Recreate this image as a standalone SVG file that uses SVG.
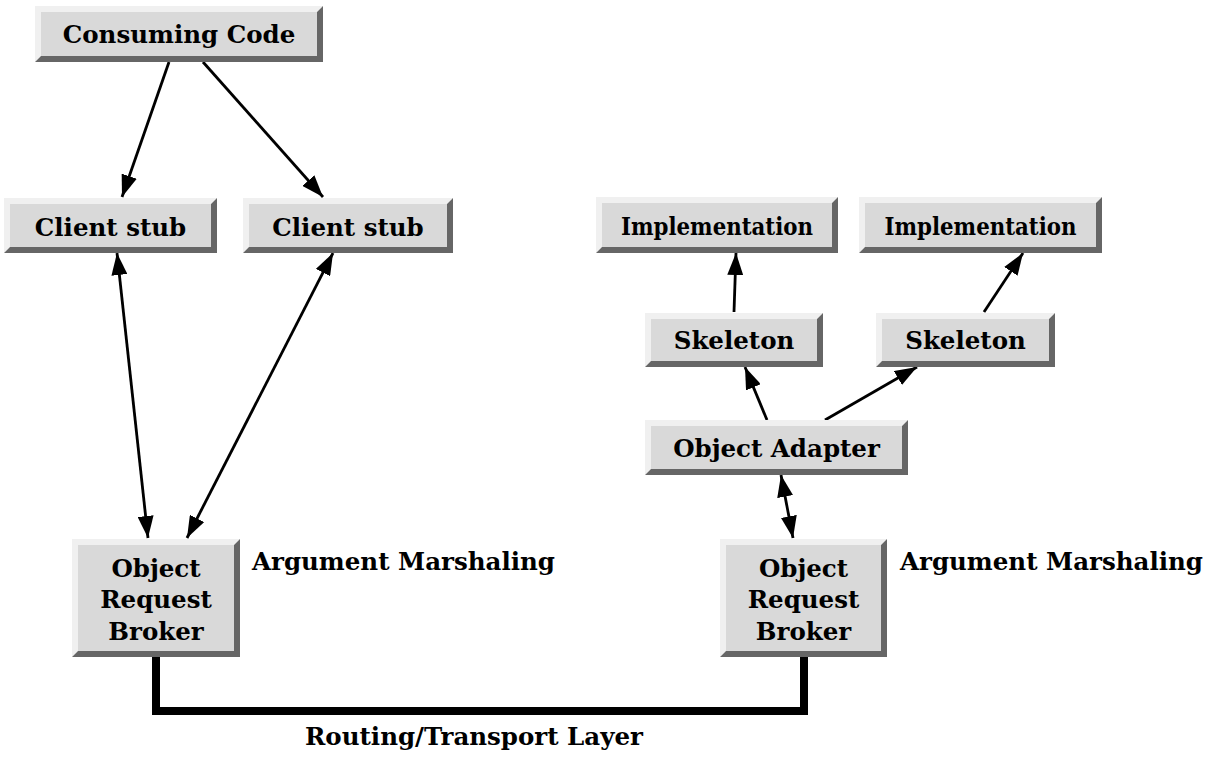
<svg xmlns="http://www.w3.org/2000/svg" width="1206" height="757" viewBox="0 0 1206 757">
<defs>
<style>
.lt{fill:#f0f0f0}
.dk{fill:#666666}
.fc{fill:#d9d9d9}
.t{font-family:"DejaVu Serif","Liberation Serif",serif;font-weight:bold;font-size:24.5px;fill:#000;text-anchor:middle}
.lbl{font-family:"DejaVu Serif","Liberation Serif",serif;font-weight:bold;font-size:24.5px;fill:#000}
.c{stroke:#000;stroke-width:2.8;fill:none}
.bus{stroke:#000;stroke-width:8;fill:none;stroke-linejoin:miter}
</style>
<marker id="ah" viewBox="0 0 22 16" refX="22" refY="8" markerWidth="22" markerHeight="16" markerUnits="userSpaceOnUse" orient="auto">
<path d="M0,0 L22,8 L0,16 Z" fill="#000"/>
</marker>
<marker id="as" viewBox="0 0 22 16" refX="0" refY="8" markerWidth="22" markerHeight="16" markerUnits="userSpaceOnUse" orient="auto">
<path d="M22,0 L0,8 L22,16 Z" fill="#000"/>
</marker>
</defs>
<rect width="1206" height="757" fill="#fff"/>

<g id="connectors">
<line class="c" x1="169" y1="62" x2="122" y2="197" marker-end="url(#ah)"/>
<line class="c" x1="203" y1="62" x2="323" y2="197" marker-end="url(#ah)"/>
<line class="c" x1="117" y1="253" x2="148" y2="538" marker-start="url(#as)" marker-end="url(#ah)"/>
<line class="c" x1="333" y1="253" x2="187" y2="538" marker-start="url(#as)" marker-end="url(#ah)"/>
<line class="c" x1="734" y1="312" x2="736" y2="253" marker-end="url(#ah)"/>
<line class="c" x1="984" y1="312" x2="1023" y2="253" marker-end="url(#ah)"/>
<line class="c" x1="767" y1="420" x2="745" y2="367" marker-end="url(#ah)"/>
<line class="c" x1="825" y1="420" x2="917" y2="367" marker-end="url(#ah)"/>
<line class="c" x1="781" y1="475" x2="793" y2="538" marker-start="url(#as)" marker-end="url(#ah)"/>
<polyline class="bus" points="156,657 156,711 804,711 804,657"/>
</g>

<g id="consuming-code">
<polygon class="lt" points="35,6 323,6 317,12 41,12 41,56 35,62"/>
<polygon class="dk" points="323,6 323,62 35,62 41,56 317,56 317,12"/>
<rect class="fc" x="41" y="12" width="276" height="44"/>
<text class="t" x="179" y="43">Consuming Code</text>
</g>

<g id="client-stub-1">
<polygon class="lt" points="4,198 217,198 211,204 10,204 10,247 4,253"/>
<polygon class="dk" points="217,198 217,253 4,253 10,247 211,247 211,204"/>
<rect class="fc" x="10" y="204" width="201" height="43"/>
<text class="t" x="110.5" y="236">Client stub</text>
</g>

<g id="client-stub-2">
<polygon class="lt" points="243,198 453,198 447,204 249,204 249,247 243,253"/>
<polygon class="dk" points="453,198 453,253 243,253 249,247 447,247 447,204"/>
<rect class="fc" x="249" y="204" width="198" height="43"/>
<text class="t" x="348" y="236">Client stub</text>
</g>

<g id="implementation-1">
<polygon class="lt" points="596,197 838,197 832,203 602,203 602,247 596,253"/>
<polygon class="dk" points="838,197 838,253 596,253 602,247 832,247 832,203"/>
<rect class="fc" x="602" y="203" width="230" height="44"/>
<text class="t" x="717" y="235" textLength="192" lengthAdjust="spacingAndGlyphs">Implementation</text>
</g>

<g id="implementation-2">
<polygon class="lt" points="859,197 1102,197 1096,203 865,203 865,247 859,253"/>
<polygon class="dk" points="1102,197 1102,253 859,253 865,247 1096,247 1096,203"/>
<rect class="fc" x="865" y="203" width="231" height="44"/>
<text class="t" x="980.5" y="235" textLength="192" lengthAdjust="spacingAndGlyphs">Implementation</text>
</g>

<g id="skeleton-1">
<polygon class="lt" points="645,313 823,313 817,319 651,319 651,361 645,367"/>
<polygon class="dk" points="823,313 823,367 645,367 651,361 817,361 817,319"/>
<rect class="fc" x="651" y="319" width="166" height="42"/>
<text class="t" x="734" y="349">Skeleton</text>
</g>

<g id="skeleton-2">
<polygon class="lt" points="876,313 1055,313 1049,319 882,319 882,361 876,367"/>
<polygon class="dk" points="1055,313 1055,367 876,367 882,361 1049,361 1049,319"/>
<rect class="fc" x="882" y="319" width="167" height="42"/>
<text class="t" x="965.5" y="349">Skeleton</text>
</g>

<g id="object-adapter">
<polygon class="lt" points="645,420 908,420 902,426 651,426 651,469 645,475"/>
<polygon class="dk" points="908,420 908,475 645,475 651,469 902,469 902,426"/>
<rect class="fc" x="651" y="426" width="251" height="43"/>
<text class="t" x="776.5" y="457">Object Adapter</text>
</g>

<g id="orb-left">
<polygon class="lt" points="72,539 240,539 234,545 78,545 78,651 72,657"/>
<polygon class="dk" points="240,539 240,657 72,657 78,651 234,651 234,545"/>
<rect class="fc" x="78" y="545" width="156" height="106"/>
<text class="t" x="156" y="577">Object</text>
<text class="t" x="156" y="608">Request</text>
<text class="t" x="156" y="640">Broker</text>
</g>

<g id="orb-right">
<polygon class="lt" points="720,539 887,539 881,545 726,545 726,651 720,657"/>
<polygon class="dk" points="887,539 887,657 720,657 726,651 881,651 881,545"/>
<rect class="fc" x="726" y="545" width="155" height="106"/>
<text class="t" x="803.5" y="577">Object</text>
<text class="t" x="803.5" y="608">Request</text>
<text class="t" x="803.5" y="640">Broker</text>
</g>

<g id="labels">
<text class="lbl" x="252" y="570">Argument Marshaling</text>
<text class="lbl" x="900" y="570">Argument Marshaling</text>
<text class="lbl" x="305" y="745">Routing/Transport Layer</text>
</g>
</svg>
